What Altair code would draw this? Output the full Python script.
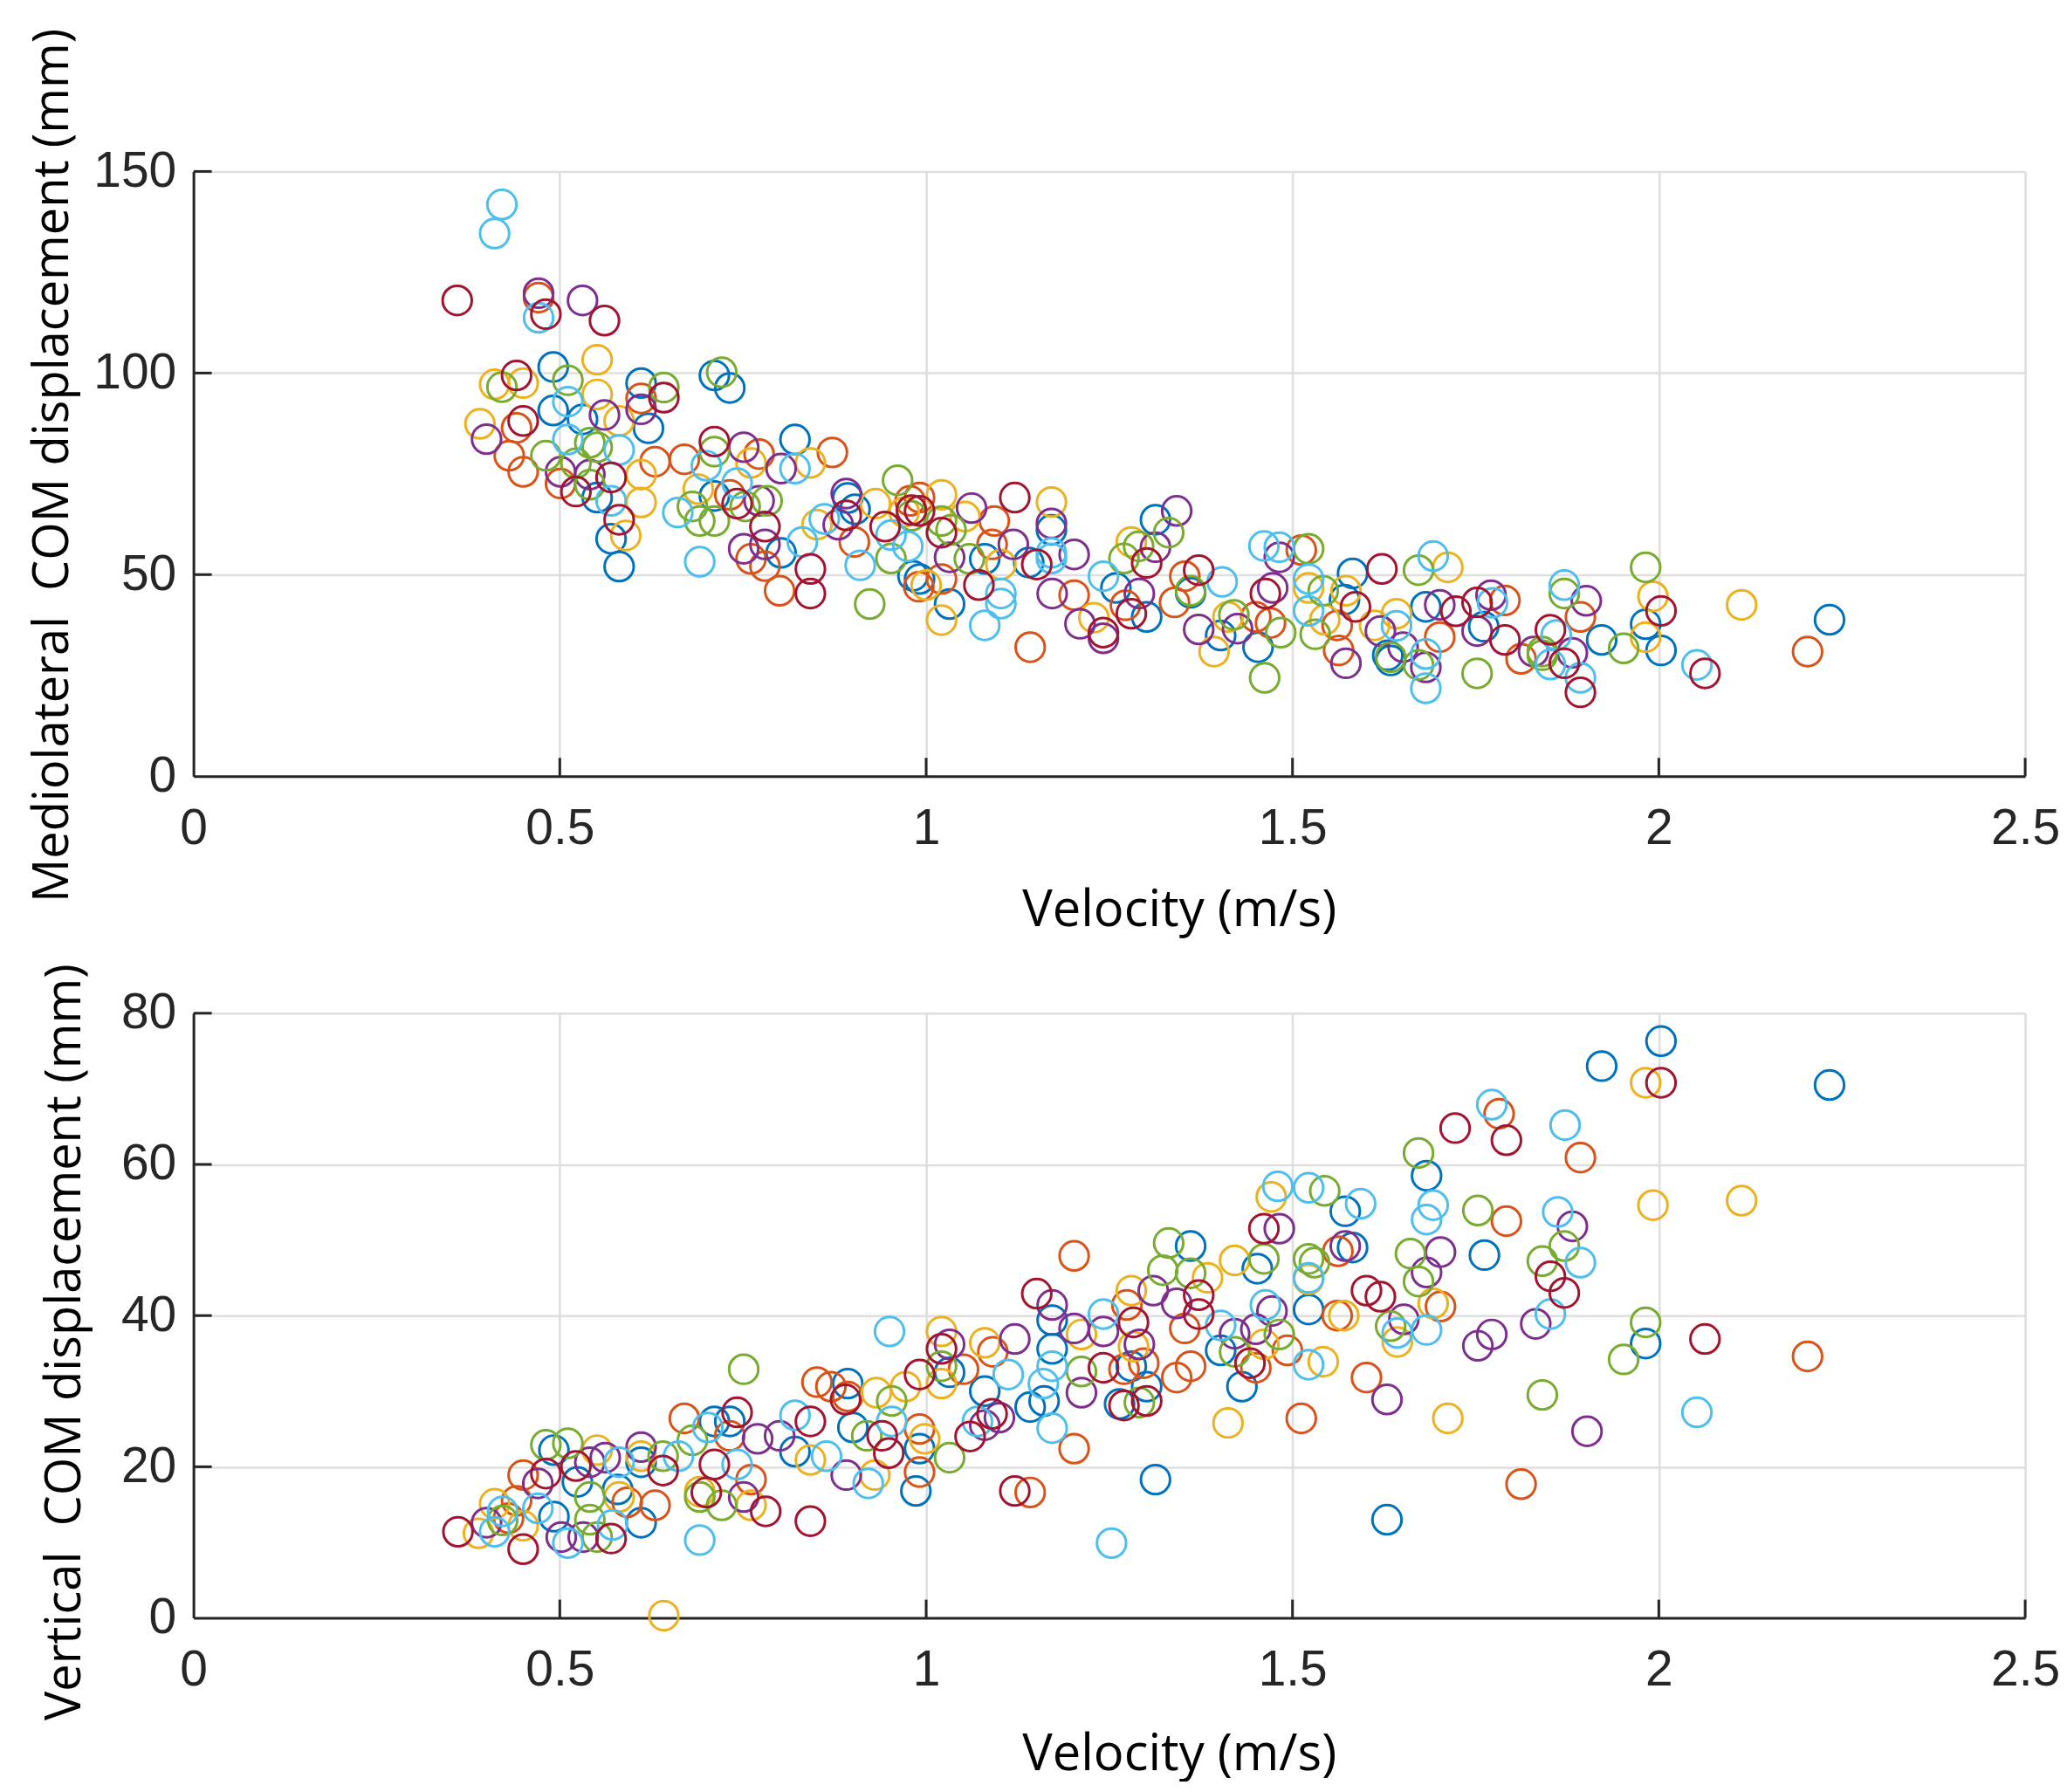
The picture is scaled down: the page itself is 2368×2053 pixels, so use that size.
import altair as alt
import pandas as pd

SUBJECTS = ["S1", "S2", "S3", "S4", "S5", "S6", "S7"]
COLORS = ["#0072BD", "#D95319", "#EDB120", "#7E2F8E", "#77AC30", "#4DBEEE", "#A2142F"]

X_TICKS = [0, 0.5, 1, 1.5, 2, 2.5]
ML_TICKS = [0, 50, 100, 150]
VT_TICKS = [0, 20, 40, 60, 80]

# ---- Mediolateral COM displacement (mm) vs velocity (m/s), per subject ----
ML_S1 = [(0.491, 101.5), (0.611, 97.5), (0.711, 99.4), (0.732, 96.3), (0.491, 90.7), (0.621, 86.3),
         (0.531, 88.5), (0.551, 69.1), (0.570, 58.9), (0.581, 52.0), (0.821, 83.5), (0.711, 69.5),
         (0.802, 55.4), (0.893, 69.0), (0.903, 66.2), (0.982, 49.7), (1.171, 61.1), (1.140, 53.0),
         (0.991, 48.9), (1.032, 42.7), (1.080, 53.9), (1.259, 46.7), (1.301, 39.5), (1.313, 63.6),
         (1.361, 45.5), (1.402, 34.9), (1.453, 32.0), (1.571, 43.8), (1.582, 50.3), (1.630, 30.0),
         (1.682, 42.0), (1.761, 37.1), (1.634, 28.7), (1.922, 33.8), (1.982, 37.7), (2.003, 31.2),
         (2.233, 38.8)]
ML_S2 = [(0.471, 118.7), (0.611, 93.7), (0.441, 86.4), (0.431, 79.5), (0.450, 75.5), (0.501, 72.6),
         (0.630, 78.0), (0.670, 78.6), (0.772, 79.9), (0.872, 80.3), (0.732, 69.8), (0.761, 53.9),
         (0.780, 52.1), (0.800, 46.0), (0.902, 58.1), (0.978, 68.3), (0.990, 47.0), (0.991, 69.1),
         (1.093, 63.3), (1.090, 57.5), (1.021, 48.9), (1.142, 32.0), (1.202, 44.9), (1.272, 42.4),
         (1.339, 43.1), (1.353, 49.6), (1.450, 39.5), (1.470, 38.0), (1.512, 56.1), (1.561, 37.4),
         (1.563, 31.2), (1.701, 34.5), (1.790, 43.6), (1.812, 29.1), (1.893, 39.5), (2.203, 30.9)]
ML_S3 = [(0.551, 103.3), (0.411, 97.2), (0.450, 97.5), (0.551, 94.7), (0.581, 88.1), (0.391, 87.4),
         (0.611, 74.8), (0.611, 67.9), (0.590, 59.7), (0.761, 77.7), (0.842, 77.7), (0.689, 71.2),
         (0.851, 62.4), (0.931, 67.6), (0.970, 65.5), (1.021, 69.8), (1.053, 64.4), (1.171, 68.0),
         (1.102, 52.5), (1.000, 47.4), (1.021, 38.7), (1.229, 39.3), (1.280, 58.1), (1.393, 30.9),
         (1.412, 39.5), (1.522, 46.7), (1.544, 38.8), (1.573, 46.0), (1.612, 37.4), (1.712, 51.8),
         (1.642, 40.3), (1.992, 44.6), (1.982, 34.5), (2.113, 42.5)]
ML_S4 = [(0.471, 119.8), (0.531, 118.0), (0.611, 91.0), (0.561, 89.6), (0.400, 83.6), (0.501, 75.5),
         (0.541, 74.8), (0.751, 81.6), (0.802, 76.3), (0.772, 68.3), (0.751, 56.4), (0.780, 57.5),
         (0.880, 62.4), (0.891, 70.1), (1.062, 66.5), (1.171, 62.7), (1.202, 55.0), (1.119, 57.5),
         (1.032, 54.3), (1.172, 45.3), (1.210, 37.8), (1.242, 34.2), (1.291, 45.3), (1.342, 65.8),
         (1.313, 56.8), (1.372, 36.4), (1.425, 36.6), (1.473, 46.7), (1.482, 54.3), (1.573, 28.0),
         (1.620, 36.0), (1.701, 42.5), (1.771, 44.9), (1.752, 36.0), (1.651, 32.0), (1.682, 27.0),
         (1.829, 30.9), (1.882, 30.6), (1.901, 43.5)]
ML_S5 = [(0.421, 96.5), (0.511, 98.2), (0.642, 96.4), (0.721, 100.2), (0.541, 82.7), (0.551, 81.6),
         (0.481, 79.5), (0.522, 77.6), (0.541, 72.3), (0.711, 80.5), (0.681, 66.9), (0.691, 63.3),
         (0.711, 63.3), (0.753, 66.9), (0.783, 68.3), (0.961, 73.4), (0.952, 54.0), (0.923, 42.7),
         (0.980, 64.6), (1.021, 63.3), (1.034, 61.1), (1.059, 53.9), (1.270, 54.0), (1.290, 57.0),
         (1.331, 60.4), (1.361, 46.0), (1.420, 40.0), (1.462, 24.4), (1.484, 35.6), (1.522, 56.4),
         (1.542, 46.0), (1.531, 35.2), (1.672, 51.1), (1.634, 29.5), (1.672, 27.6), (1.752, 25.5),
         (1.841, 30.9), (1.841, 30.0), (1.871, 45.3), (1.952, 31.7), (1.982, 51.8)]
ML_S6 = [(0.421, 141.8), (0.411, 134.6), (0.471, 113.7), (0.511, 92.9), (0.511, 83.5), (0.581, 80.9),
         (0.570, 68.3), (0.700, 77.0), (0.661, 65.4), (0.742, 72.7), (0.691, 53.2), (0.821, 76.3),
         (0.831, 58.1), (0.861, 63.8), (0.910, 52.3), (0.952, 59.8), (0.975, 57.0), (1.171, 54.0),
         (1.171, 55.4), (1.102, 45.3), (1.102, 42.8), (1.080, 37.4), (1.242, 49.6), (1.404, 48.2),
         (1.461, 57.1), (1.482, 56.8), (1.522, 48.9), (1.522, 41.0), (1.642, 37.3), (1.692, 54.6),
         (1.773, 43.0), (1.682, 30.3), (1.682, 21.8), (1.852, 27.7), (1.860, 35.0), (1.893, 24.4),
         (1.871, 47.4), (2.052, 27.6)]
ML_S7 = [(0.360, 118.0), (0.481, 114.6), (0.561, 113.0), (0.441, 99.4), (0.642, 93.9), (0.450, 88.1),
         (0.522, 70.6), (0.570, 74.1), (0.581, 63.6), (0.711, 83.0), (0.742, 67.6), (0.780, 61.9),
         (0.842, 51.4), (0.842, 45.3), (0.891, 64.7), (0.944, 61.9), (0.980, 66.0), (0.991, 65.8),
         (1.021, 60.4), (1.121, 69.1), (1.151, 52.5), (1.072, 47.4), (1.242, 35.6), (1.280, 40.3),
         (1.301, 52.9), (1.372, 51.1), (1.463, 45.3), (1.586, 42.0), (1.622, 51.4), (1.723, 40.9),
         (1.752, 43.1), (1.790, 33.8), (1.852, 36.3), (1.871, 28.0), (1.893, 20.8), (2.003, 41.0),
         (2.063, 25.5)]

# ---- Vertical COM displacement (mm) vs velocity (m/s), per subject ----
VT_S1 = [(0.492, 22.2), (0.492, 13.4), (0.524, 18.0), (0.579, 17.0), (0.611, 20.6), (0.611, 12.6),
         (0.711, 26.0), (0.732, 26.0), (0.821, 22.0), (0.893, 31.0), (0.900, 25.2), (0.986, 16.8),
         (0.991, 22.4), (1.032, 32.5), (1.080, 30.0), (1.172, 39.4), (1.172, 35.6), (1.161, 28.7),
         (1.142, 27.9), (1.280, 33.3), (1.301, 30.6), (1.264, 28.3), (1.313, 18.3), (1.361, 49.2),
         (1.452, 46.2), (1.402, 35.4), (1.431, 30.6), (1.522, 40.8), (1.572, 53.8), (1.582, 49.0),
         (1.629, 13.0), (1.683, 58.5), (1.762, 48.0), (1.922, 73.0), (2.003, 76.3), (2.233, 70.5),
         (1.982, 36.3)]
VT_S2 = [(0.441, 15.5), (0.430, 13.2), (0.450, 18.9), (0.592, 15.3), (0.630, 14.9), (0.670, 26.4),
         (0.732, 24.1), (0.761, 18.3), (0.851, 31.2), (0.870, 30.6), (0.893, 29.3), (0.991, 19.3),
         (0.991, 25.0), (1.051, 32.9), (1.091, 35.2), (1.142, 16.6), (1.202, 22.4), (1.202, 47.9),
         (1.274, 41.4), (1.270, 32.9), (1.297, 33.7), (1.342, 31.8), (1.361, 33.3), (1.353, 38.3),
         (1.450, 33.1), (1.493, 35.4), (1.512, 26.4), (1.561, 40.0), (1.562, 48.5), (1.601, 31.8),
         (1.702, 41.2), (1.782, 66.7), (1.792, 52.5), (1.812, 17.7), (1.893, 60.9), (2.203, 34.6)]
VT_S3 = [(0.389, 11.2), (0.411, 15.1), (0.450, 12.2), (0.551, 22.2), (0.581, 16.0), (0.611, 21.4),
         (0.642, 0.3), (0.691, 16.7), (0.761, 14.9), (0.842, 20.9), (0.932, 29.8), (0.972, 30.6),
         (0.930, 18.9), (0.998, 23.7), (1.021, 37.9), (1.021, 31.0), (1.080, 36.4), (1.212, 37.5),
         (1.283, 35.9), (1.280, 43.3), (1.384, 45.0), (1.421, 47.3), (1.412, 25.8), (1.461, 36.2),
         (1.471, 55.7), (1.522, 44.8), (1.542, 33.9), (1.570, 40.0), (1.643, 36.5), (1.692, 41.6),
         (1.712, 26.4), (1.982, 70.8), (1.992, 54.6), (2.113, 55.2)]
VT_S4 = [(0.400, 12.6), (0.470, 17.8), (0.502, 10.7), (0.532, 10.7), (0.541, 20.6), (0.562, 21.2),
         (0.611, 22.6), (0.751, 16.0), (0.770, 23.7), (0.800, 24.1), (0.891, 18.9), (1.032, 36.2),
         (1.121, 36.9), (1.080, 25.5), (1.100, 26.5), (1.172, 41.4), (1.202, 38.3), (1.212, 29.8),
         (1.242, 37.9), (1.291, 36.2), (1.310, 43.3), (1.342, 41.6), (1.421, 37.6), (1.450, 38.2),
         (1.472, 40.6), (1.482, 51.5), (1.572, 49.2), (1.629, 28.9), (1.652, 39.5), (1.683, 45.7),
         (1.702, 48.4), (1.753, 36.0), (1.772, 37.5), (1.832, 38.9), (1.882, 51.8), (1.902, 24.7)]
VT_S5 = [(0.422, 12.9), (0.481, 22.9), (0.511, 23.1), (0.541, 16.0), (0.541, 13.0), (0.551, 10.7),
         (0.641, 21.4), (0.681, 23.5), (0.691, 16.0), (0.721, 14.9), (0.751, 32.9), (0.919, 24.1),
         (0.953, 28.7), (1.021, 33.3), (1.032, 21.2), (1.212, 32.6), (1.291, 28.5), (1.323, 46.0),
         (1.331, 49.6), (1.361, 45.6), (1.421, 35.2), (1.461, 47.5), (1.482, 37.5), (1.522, 47.5),
         (1.530, 47.0), (1.544, 56.5), (1.634, 38.6), (1.661, 48.2), (1.672, 44.5), (1.672, 61.5),
         (1.753, 53.9), (1.841, 47.2), (1.841, 29.5), (1.871, 49.2), (1.952, 34.2), (1.982, 39.1)]
VT_S6 = [(0.411, 11.4), (0.422, 14.1), (0.470, 14.5), (0.511, 9.9), (0.572, 12.3), (0.581, 20.6),
         (0.662, 21.4), (0.691, 10.3), (0.702, 25.2), (0.742, 20.3), (0.821, 26.8), (0.864, 21.4),
         (0.921, 17.8), (0.950, 37.9), (0.953, 26.0), (1.112, 32.2), (1.070, 26.0), (1.160, 31.0),
         (1.172, 33.3), (1.172, 25.1), (1.242, 40.2), (1.253, 9.9), (1.402, 38.7), (1.463, 41.4),
         (1.480, 57.1), (1.522, 56.9), (1.522, 45.0), (1.522, 33.5), (1.593, 54.8), (1.643, 37.7),
         (1.683, 38.1), (1.683, 52.7), (1.692, 54.6), (1.772, 67.9), (1.852, 40.2), (1.862, 53.7),
         (1.872, 65.2), (1.893, 47.0), (2.052, 27.2)]
VT_S7 = [(0.361, 11.4), (0.450, 9.1), (0.481, 19.1), (0.522, 20.1), (0.570, 10.5), (0.641, 19.5),
         (0.700, 16.6), (0.711, 20.3), (0.742, 27.2), (0.781, 14.1), (0.842, 26.0), (0.842, 12.8),
         (0.890, 28.9), (0.940, 24.1), (0.949, 21.8), (0.991, 32.2), (1.021, 35.6), (1.060, 24.0),
         (1.090, 27.0), (1.121, 16.8), (1.151, 42.9), (1.242, 33.1), (1.283, 39.1), (1.301, 28.7),
         (1.270, 28.1), (1.372, 42.7), (1.372, 40.2), (1.442, 33.7), (1.461, 51.5), (1.601, 43.3),
         (1.620, 42.5), (1.722, 64.8), (1.792, 63.2), (1.852, 45.2), (1.871, 43.0), (2.003, 70.8),
         (2.063, 36.9)]

ML_DATA = [ML_S1, ML_S2, ML_S3, ML_S4, ML_S5, ML_S6, ML_S7]
VT_DATA = [VT_S1, VT_S2, VT_S3, VT_S4, VT_S5, VT_S6, VT_S7]


def frame(series):
    rows = []
    for subj, pts in zip(SUBJECTS, series):
        for v, d in pts:
            rows.append({"v": v, "d": d, "subject": subj})
    return pd.DataFrame(rows)


W, H = 2102, 694
TICK_LEN = 21
INK = "#262626"
X_TITLE_X = 1131


def panel(series, y_ticks, y_title, y_title_pad, y_title_y, x_title_pad):
    ymax = y_ticks[-1]
    xs = alt.Scale(domain=[0, 2.5], nice=False, zero=False)
    ys = alt.Scale(domain=[0, ymax], nice=False, zero=False)
    x_axis = alt.Axis(values=X_TICKS, format=".1~f", title="Velocity (m/s)",
                      titlePadding=x_title_pad, titleX=X_TITLE_X, titleFontSize=58,
                      labelPadding=32, labelFlush=False)
    y_axis = alt.Axis(values=y_ticks, title=y_title, titlePadding=y_title_pad,
                      titleY=y_title_y, labelPadding=20)

    xtick_layer = alt.Chart(pd.DataFrame({"v": X_TICKS[1:]})).mark_rule(
        color=INK, strokeWidth=3
    ).encode(
        x=alt.X("v:Q", scale=xs, axis=x_axis),
        y=alt.value(H),
        y2=alt.value(H - TICK_LEN),
    )
    ytick_layer = alt.Chart(pd.DataFrame({"d": y_ticks[1:]})).mark_rule(
        color=INK, strokeWidth=3
    ).encode(
        y=alt.Y("d:Q", scale=ys, axis=y_axis),
        x=alt.value(0),
        x2=alt.value(TICK_LEN),
    )

    pts = alt.Chart(frame(series)).mark_point(
        shape="circle", filled=False, size=1120, strokeWidth=3, opacity=1
    ).encode(
        x=alt.X("v:Q", scale=xs, axis=x_axis),
        y=alt.Y("d:Q", scale=ys, axis=y_axis),
        color=alt.Color("subject:N", scale=alt.Scale(domain=SUBJECTS, range=COLORS), legend=None),
    )

    return alt.layer(xtick_layer, ytick_layer, pts).properties(width=W, height=H)


top = panel(ML_DATA, ML_TICKS, "Mediolateral\u00a0 COM displacement (mm)", 17, 337, 38)
bottom = panel(VT_DATA, VT_TICKS, "Vertical\u00a0 COM displacement (mm)", 35, 377, 40)

chart = alt.vconcat(top, bottom, spacing=272, bounds="flush").properties(
    padding={"left": 24, "top": 22, "right": 0, "bottom": 0}
).configure_view(stroke=None).configure_axis(
    domainColor=INK,
    domainWidth=3,
    ticks=False,
    grid=True,
    gridColor="#dedede",
    gridWidth=2.5,
    gridOpacity=1,
    labelFont="Liberation Sans",
    labelFontSize=57,
    labelColor=INK,
    titleFont="Open Sans",
    titleFontSize=56,
    titleFontWeight="normal",
    titleColor="#000000",
)

chart.save("out.html", embed_options={"renderer": "svg", "actions": False})
